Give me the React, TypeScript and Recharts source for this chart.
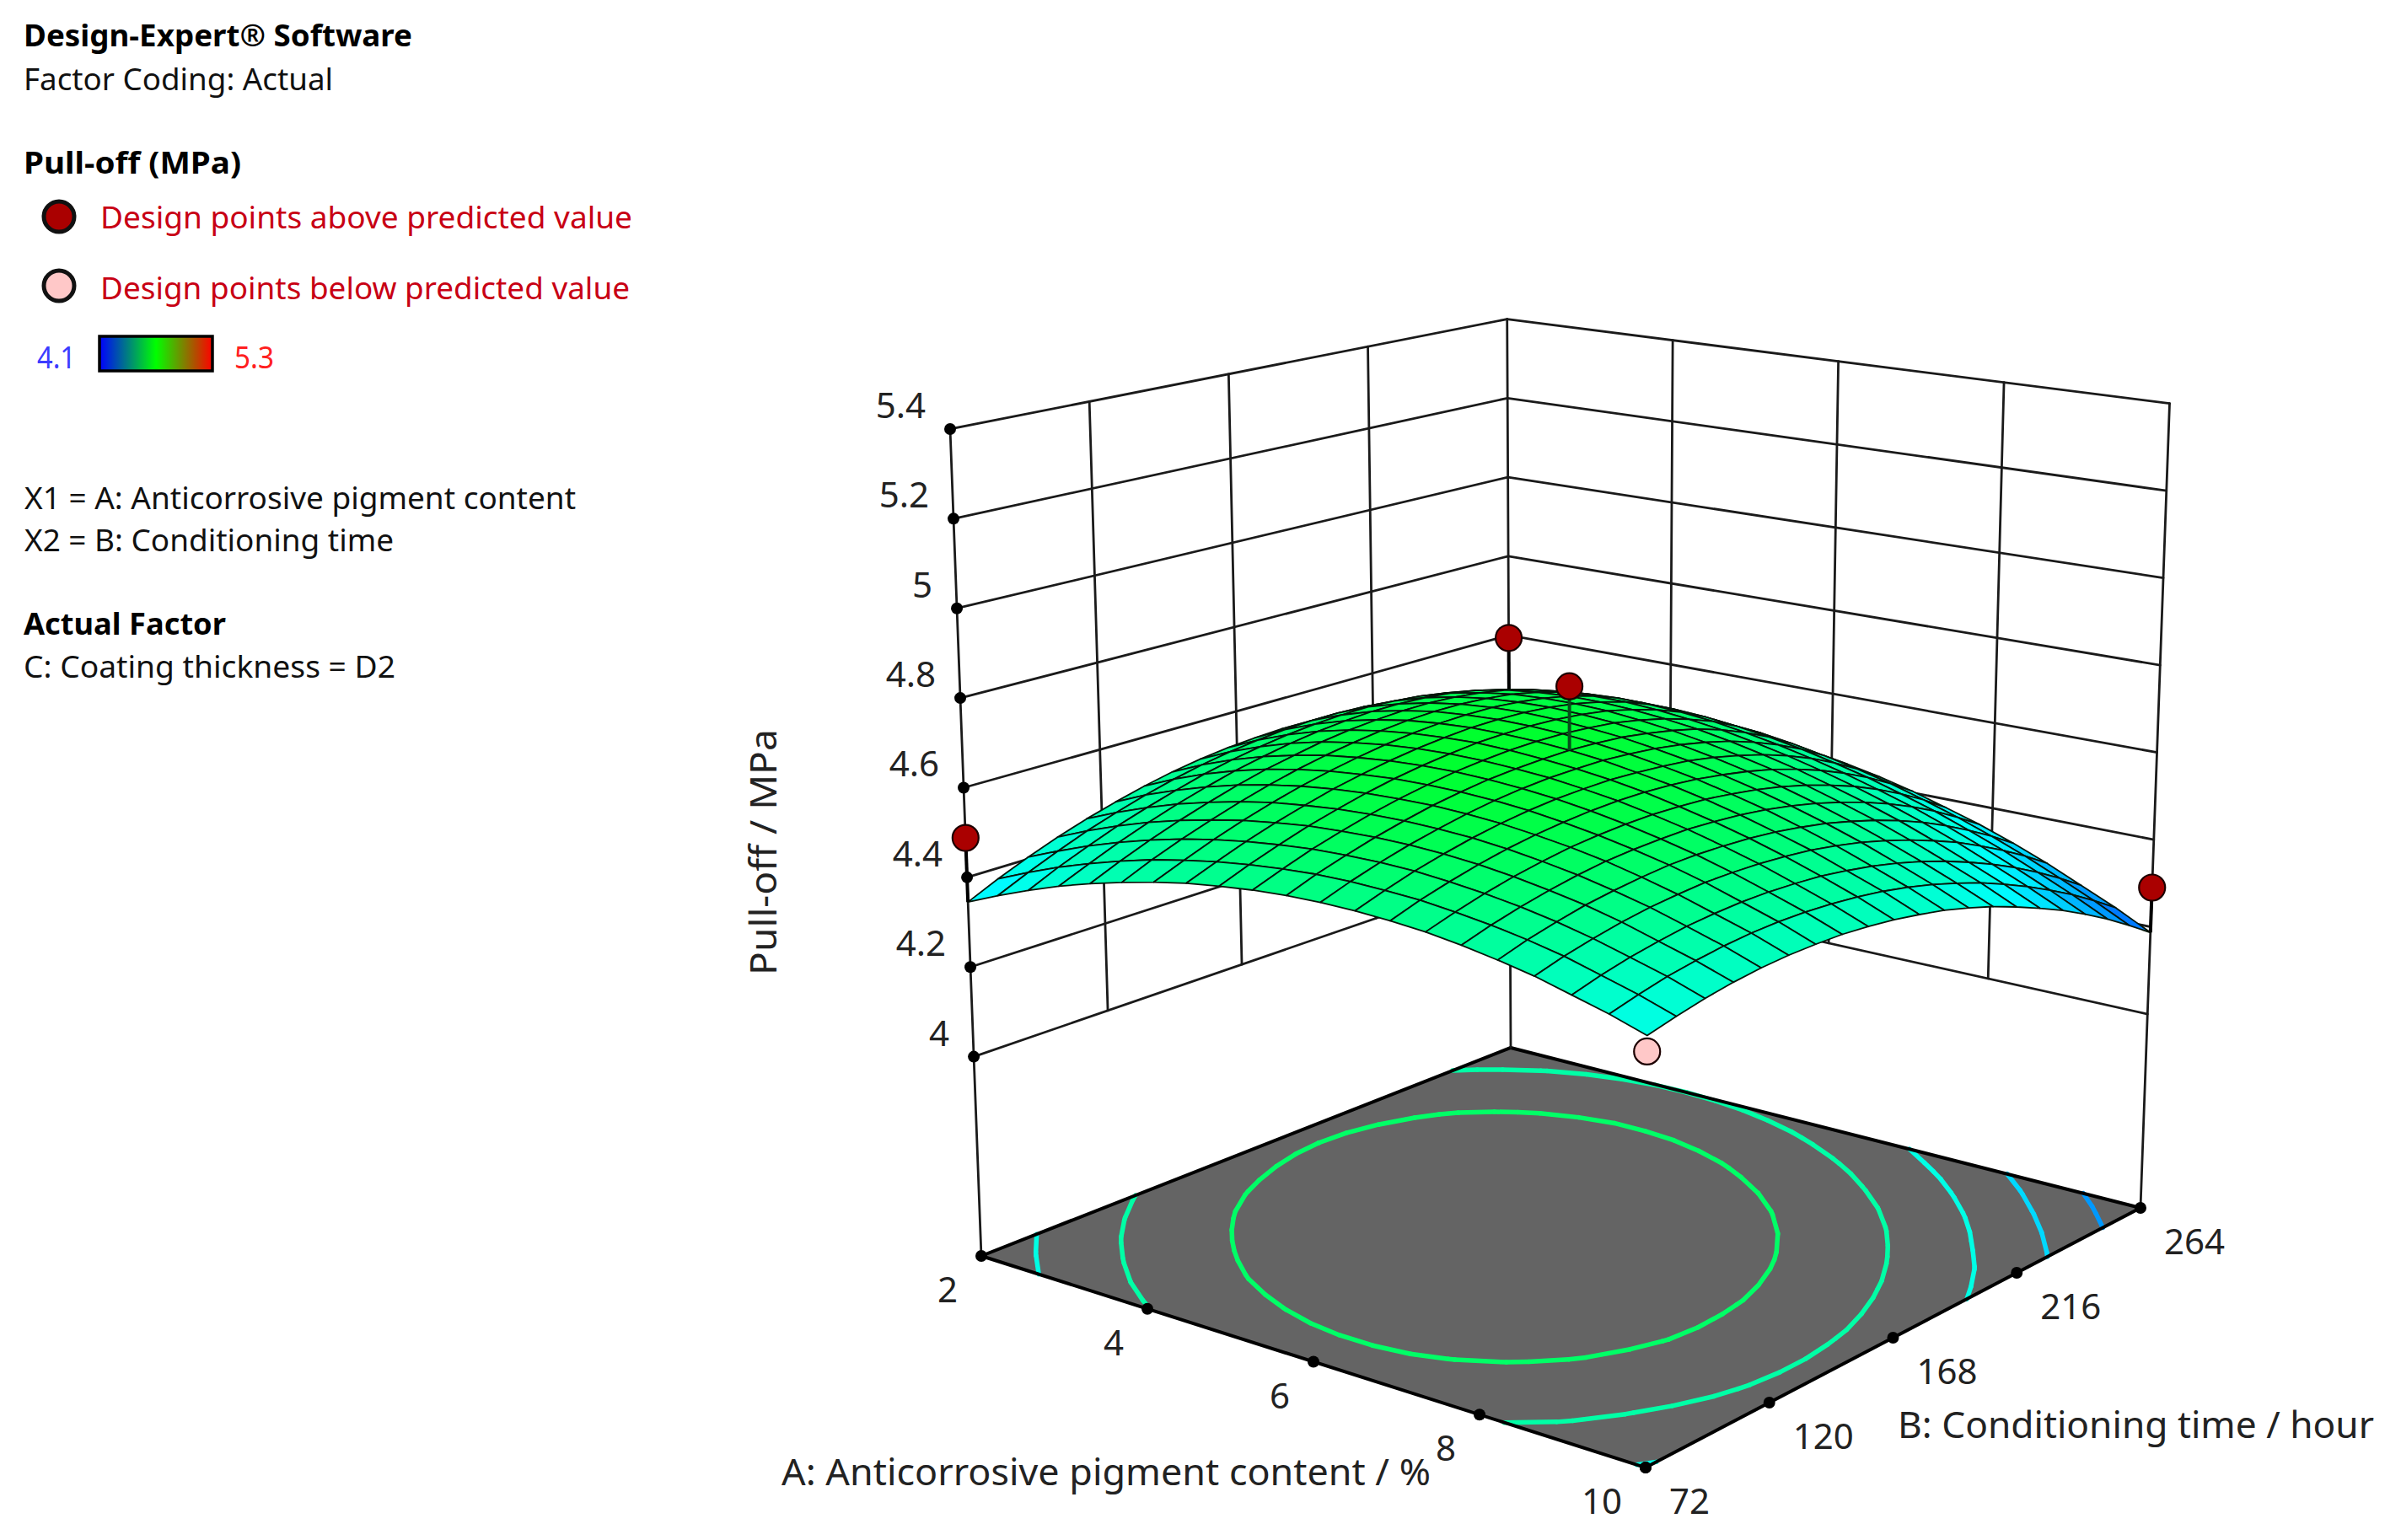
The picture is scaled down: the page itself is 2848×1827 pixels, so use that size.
import { ScatterChart, Scatter, XAxis, YAxis } from 'recharts'

const WIDTH = 2848
const HEIGHT = 1827

const A_GRID = [2, 2.4, 2.8, 3.2, 3.6, 4, 4.4, 4.8, 5.2, 5.6, 6, 6.4, 6.8, 7.2, 7.6, 8, 8.4, 8.8, 9.2, 9.6, 10]
const B_GRID = [72, 81.6, 91.2, 100.8, 110.4, 120, 129.6, 139.2, 148.8, 158.4, 168, 177.6, 187.2, 196.8, 206.4, 216, 225.6, 235.2, 244.8, 254.4, 264]

// one row per A value, one column per B value (MPa)
const PULL_OFF = [
  [4.345, 4.376, 4.404, 4.429, 4.451, 4.470, 4.487, 4.501, 4.512, 4.520, 4.525, 4.528, 4.527, 4.524, 4.518, 4.510, 4.498, 4.484, 4.467, 4.447, 4.424],
  [4.375, 4.405, 4.432, 4.457, 4.478, 4.497, 4.513, 4.526, 4.536, 4.543, 4.548, 4.550, 4.549, 4.545, 4.538, 4.529, 4.517, 4.502, 4.484, 4.463, 4.440],
  [4.402, 4.432, 4.458, 4.482, 4.502, 4.520, 4.536, 4.548, 4.557, 4.564, 4.568, 4.569, 4.568, 4.563, 4.556, 4.546, 4.533, 4.517, 4.498, 4.477, 4.453],
  [4.427, 4.455, 4.481, 4.504, 4.524, 4.541, 4.556, 4.567, 4.576, 4.582, 4.585, 4.586, 4.583, 4.578, 4.570, 4.559, 4.545, 4.529, 4.510, 4.488, 4.463],
  [4.448, 4.476, 4.501, 4.523, 4.542, 4.559, 4.573, 4.583, 4.592, 4.597, 4.599, 4.599, 4.596, 4.590, 4.581, 4.570, 4.555, 4.538, 4.518, 4.495, 4.470],
  [4.466, 4.494, 4.518, 4.539, 4.558, 4.574, 4.587, 4.597, 4.604, 4.609, 4.611, 4.610, 4.606, 4.599, 4.590, 4.577, 4.562, 4.544, 4.524, 4.500, 4.474],
  [4.482, 4.508, 4.532, 4.553, 4.571, 4.586, 4.598, 4.607, 4.614, 4.618, 4.619, 4.617, 4.613, 4.605, 4.595, 4.582, 4.566, 4.548, 4.526, 4.502, 4.475],
  [4.495, 4.520, 4.543, 4.563, 4.580, 4.595, 4.606, 4.615, 4.621, 4.624, 4.625, 4.622, 4.617, 4.609, 4.598, 4.584, 4.568, 4.548, 4.526, 4.501, 4.473],
  [4.504, 4.529, 4.551, 4.571, 4.587, 4.601, 4.612, 4.620, 4.625, 4.628, 4.627, 4.624, 4.618, 4.609, 4.598, 4.583, 4.566, 4.546, 4.523, 4.497, 4.469],
  [4.511, 4.535, 4.557, 4.575, 4.591, 4.604, 4.614, 4.622, 4.626, 4.628, 4.627, 4.623, 4.616, 4.607, 4.594, 4.579, 4.561, 4.541, 4.517, 4.491, 4.461],
  [4.515, 4.539, 4.559, 4.577, 4.592, 4.605, 4.614, 4.621, 4.624, 4.625, 4.624, 4.619, 4.612, 4.601, 4.588, 4.573, 4.554, 4.532, 4.508, 4.481, 4.451],
  [4.516, 4.539, 4.559, 4.576, 4.590, 4.602, 4.611, 4.617, 4.620, 4.620, 4.618, 4.612, 4.604, 4.593, 4.579, 4.563, 4.543, 4.521, 4.496, 4.468, 4.438],
  [4.514, 4.536, 4.556, 4.572, 4.586, 4.597, 4.605, 4.610, 4.612, 4.612, 4.608, 4.602, 4.594, 4.582, 4.567, 4.550, 4.530, 4.507, 4.481, 4.453, 4.422],
  [4.509, 4.531, 4.549, 4.565, 4.578, 4.588, 4.595, 4.600, 4.602, 4.601, 4.597, 4.590, 4.580, 4.568, 4.553, 4.535, 4.514, 4.490, 4.464, 4.435, 4.403],
  [4.502, 4.522, 4.540, 4.555, 4.567, 4.577, 4.583, 4.587, 4.588, 4.586, 4.582, 4.574, 4.564, 4.551, 4.535, 4.516, 4.495, 4.470, 4.443, 4.413, 4.380],
  [4.491, 4.511, 4.528, 4.542, 4.554, 4.563, 4.568, 4.571, 4.572, 4.569, 4.564, 4.556, 4.545, 4.531, 4.514, 4.495, 4.473, 4.448, 4.420, 4.389, 4.356],
  [4.477, 4.497, 4.513, 4.527, 4.537, 4.545, 4.551, 4.553, 4.552, 4.549, 4.543, 4.534, 4.523, 4.508, 4.491, 4.471, 4.448, 4.422, 4.393, 4.362, 4.328],
  [4.461, 4.480, 4.495, 4.508, 4.518, 4.525, 4.530, 4.531, 4.530, 4.526, 4.520, 4.510, 4.498, 4.482, 4.464, 4.443, 4.420, 4.393, 4.364, 4.332, 4.297],
  [4.440, 4.458, 4.473, 4.485, 4.495, 4.501, 4.505, 4.506, 4.504, 4.500, 4.492, 4.482, 4.469, 4.453, 4.434, 4.412, 4.388, 4.361, 4.331, 4.298, 4.262],
  [4.419, 4.436, 4.451, 4.462, 4.471, 4.477, 4.480, 4.480, 4.477, 4.472, 4.464, 4.453, 4.439, 4.422, 4.403, 4.380, 4.355, 4.327, 4.297, 4.263, 4.227],
  [4.394, 4.410, 4.424, 4.435, 4.443, 4.448, 4.450, 4.450, 4.446, 4.440, 4.431, 4.420, 4.405, 4.388, 4.367, 4.344, 4.319, 4.290, 4.259, 4.224, 4.187],
]

const A_TICKS = [2, 4, 6, 8, 10]
const B_TICKS = [72, 120, 168, 216, 264]
const Z_TICKS = [4, 4.2, 4.4, 4.6, 4.8, 5, 5.2, 5.4]
const CONTOUR_LEVELS = [4.55, 4.475, 4.4, 4.325, 4.25]

const DESIGN_A = [2, 2, 6, 10, 10]
const DESIGN_B = [264, 72, 168, 264, 72]
const DESIGN_Z = [4.593, 4.488, 4.766, 4.29, 4.363]
const DESIGN_SURFACE = [4.424, 4.345, 4.624, 4.187, 4.394]

// camera: floor corners in page pixels, then how fast height widens and climbs
const FLOOR_Z = 3.5556
const VANISH_X = 1875
const WIDEN = 0.0282
const CLIMB = 531.9
const H = { a: 572.1, b: 882.1, c: 1164, d: 58.5, e: -70.8, f: 1490, g: -0.11059, h: 0.14179 }

function project(a: number, b: number, z: number) {
  const u = (a - 2) / 8
  const v = (b - 72) / 192
  const w = H.g * u + H.h * v + 1
  const fx = (H.a * u + H.b * v + H.c) / w
  const fy = (H.d * u + H.e * v + H.f) / w
  const t = z - FLOOR_Z
  const hump = 16 * u * (1 - u) * v * (1 - v) * Math.pow(v + 1 - u, 4)
  const hw = 1 - 0.13 * u + 0.135 * v + 0.023 * u * v - 0.013 * hump
  return { x: fx + (fx - VANISH_X) * WIDEN * t, y: fy - (CLIMB * t) / hw }
}

function seg(a1: number, b1: number, z1: number, a2: number, b2: number, z2: number) {
  const p = project(a1, b1, z1)
  const q = project(a2, b2, z2)
  return { x: p.x, y: p.y, x2: q.x, y2: q.y }
}

// the software spaces its ticks evenly on the page, not in perspective
function along(p: { x: number; y: number }, q: { x: number; y: number }, t: number) {
  return { x: p.x + (q.x - p.x) * t, y: p.y + (q.y - p.y) * t }
}
const aTickAt = (a: number, z: number) => along(project(2, 72, z), project(10, 72, z), (a - 2) / 8)
const bTickAt = (b: number, z: number) => along(project(10, 72, z), project(10, 264, z), (b - 72) / 192)

const mix = (p: number[], q: number[], t: number) => p.map((c, i) => Math.round(c + (q[i] - c) * t))

function colorFor(z: number) {
  const stops = [[0, 0, 255], [0, 255, 255], [0, 255, 0], [255, 255, 0], [255, 0, 0]]
  const s = Math.max(0, Math.min(3.999, (z - 4.1) / 0.3))
  const i = Math.floor(s)
  const c = mix(stops[i], stops[i + 1], s - i)
  return `rgb(${c[0]},${c[1]},${c[2]})`
}

function quad(a1: number, b1: number, z1: number, a2: number, b2: number, z2: number, a3: number, b3: number, z3: number, a4: number, b4: number, z4: number, fill: string) {
  const corners = [project(a1, b1, z1), project(a2, b2, z2), project(a3, b3, z3), project(a4, b4, z4)]
  return { x: corners[0].x, y: corners[0].y, corners, fill }
}

// back corner first so the front cells paint over it
const surfaceCells: any[] = []
for (let i = 0; i < A_GRID.length - 1; i++) {
  for (let j = B_GRID.length - 2; j >= 0; j--) {
    const z00 = PULL_OFF[i][j]
    const z10 = PULL_OFF[i + 1][j]
    const z11 = PULL_OFF[i + 1][j + 1]
    const z01 = PULL_OFF[i][j + 1]
    surfaceCells.push(
      quad(A_GRID[i], B_GRID[j], z00, A_GRID[i + 1], B_GRID[j], z10, A_GRID[i + 1], B_GRID[j + 1], z11, A_GRID[i], B_GRID[j + 1], z01, colorFor((z00 + z10 + z11 + z01) / 4 + 0.02))
    )
  }
}

const floorCell = [quad(2, 72, FLOOR_Z, 10, 72, FLOOR_Z, 10, 264, FLOOR_Z, 2, 264, FLOOR_Z, '#646464')]

const contourSegments: any[] = []
CONTOUR_LEVELS.forEach((level) => {
  for (let i = 0; i < A_GRID.length - 1; i++) {
    for (let j = 0; j < B_GRID.length - 1; j++) {
      const c = [
        [A_GRID[i], B_GRID[j], PULL_OFF[i][j]],
        [A_GRID[i + 1], B_GRID[j], PULL_OFF[i + 1][j]],
        [A_GRID[i + 1], B_GRID[j + 1], PULL_OFF[i + 1][j + 1]],
        [A_GRID[i], B_GRID[j + 1], PULL_OFF[i][j + 1]],
      ]
      const hits: { x: number; y: number }[] = []
      for (let k = 0; k < 4; k++) {
        const p = c[k]
        const q = c[(k + 1) % 4]
        if (p[2] >= level !== q[2] >= level) {
          const t = (level - p[2]) / (q[2] - p[2])
          hits.push(project(p[0] + (q[0] - p[0]) * t, p[1] + (q[1] - p[1]) * t, FLOOR_Z))
        }
      }
      for (let k = 0; k + 1 < hits.length; k += 2) {
        contourSegments.push({ x: hits[k].x, y: hits[k].y, x2: hits[k + 1].x, y2: hits[k + 1].y, stroke: colorFor(level + 0.03) })
      }
    }
  }
})

const floorEdges = [
  seg(2, 72, FLOOR_Z, 10, 72, FLOOR_Z),
  seg(10, 72, FLOOR_Z, 10, 264, FLOOR_Z),
  seg(10, 264, FLOOR_Z, 2, 264, FLOOR_Z),
  seg(2, 264, FLOOR_Z, 2, 72, FLOOR_Z),
]

function evenWallLine(first: number[], last: number[], t: number) {
  const p = along(project(first[0], first[1], 4), project(last[0], last[1], 4), t)
  const q = along(project(first[0], first[1], 5.4), project(last[0], last[1], 5.4), t)
  return { x: p.x, y: p.y, x2: q.x, y2: q.y }
}

const wallLines = [
  ...Z_TICKS.flatMap((z) => [seg(2, 72, z, 2, 264, z), seg(2, 264, z, 10, 264, z)]),
  ...B_TICKS.slice(1, 4).map((b) => evenWallLine([2, 72], [2, 264], (b - 72) / 192)),
  ...A_TICKS.slice(1, 4).map((a) => evenWallLine([2, 264], [10, 264], (a - 2) / 8)),
  seg(2, 72, FLOOR_Z, 2, 72, 5.4),
  seg(2, 264, FLOOR_Z, 2, 264, 5.4),
  seg(10, 264, FLOOR_Z, 10, 264, 5.4),
]

const tickDots = [
  ...Z_TICKS.map((z) => project(2, 72, z)),
  ...A_TICKS.map((a) => aTickAt(a, FLOOR_Z)),
  ...B_TICKS.map((b) => bTickAt(b, FLOOR_Z)),
]

const designPoints = DESIGN_Z.map((z, i) => {
  const p = project(DESIGN_A[i], DESIGN_B[i], z)
  const q = project(DESIGN_A[i], DESIGN_B[i], DESIGN_SURFACE[i])
  const above = z >= DESIGN_SURFACE[i]
  return {
    x: p.x,
    y: p.y,
    x2: above ? q.x : p.x,
    y2: above ? q.y : p.y,
    fill: above ? '#aa0000' : '#ffc8c8',
    tail: DESIGN_A[i] === 6 ? '#06501a' : '#000',
  }
})
const backPoints = designPoints.slice(0, 1)
const frontPoints = designPoints.slice(1)

const tickLabels = [
  ...Z_TICKS.map((z) => {
    const p = project(2, 72, z)
    return { x: p.x - 29, y: p.y - 13, text: String(z), anchor: 'end', size: 42, fill: '#222' }
  }),
  ...A_TICKS.map((a) => {
    const p = aTickAt(a, FLOOR_Z)
    return { x: p.x - 28, y: p.y + 55, text: String(a), anchor: 'end', size: 42, fill: '#222' }
  }),
  ...B_TICKS.map((b) => {
    const p = bTickAt(b, FLOOR_Z)
    return { x: p.x + 28, y: p.y + 55, text: String(b), anchor: 'start', size: 42, fill: '#222' }
  }),
]

const RED_TEXT = '#c80014'
const panelText = [
  { text: 'Design-Expert® Software', x: 28, y: 55, len: 461, size: 36, weight: 700, fill: '#000' },
  { text: 'Factor Coding: Actual', x: 28, y: 107, len: 367, size: 36, weight: 400, fill: '#111' },
  { text: 'Pull-off (MPa)', x: 28, y: 206, len: 258, size: 36, weight: 700, fill: '#000' },
  { text: 'Design points above predicted value', x: 119, y: 271, len: 631, size: 36, weight: 400, fill: RED_TEXT },
  { text: 'Design points below predicted value', x: 119, y: 355, len: 628, size: 36, weight: 400, fill: RED_TEXT },
  { text: '4.1', x: 44, y: 437, len: 46, size: 36, weight: 400, fill: '#3c3cff' },
  { text: '5.3', x: 278, y: 437, len: 47, size: 36, weight: 400, fill: '#ff2020' },
  { text: 'X1 = A: Anticorrosive pigment content', x: 29, y: 604, len: 654, size: 36, weight: 400, fill: '#111' },
  { text: 'X2 = B: Conditioning time', x: 29, y: 654, len: 438, size: 36, weight: 400, fill: '#111' },
  { text: 'Actual Factor', x: 28, y: 753, len: 240, size: 36, weight: 700, fill: '#000' },
  { text: 'C: Coating thickness = D2', x: 28, y: 804, len: 441, size: 36, weight: 400, fill: '#111' },
  { text: 'A: Anticorrosive pigment content / %', x: 927, y: 1762, len: 770, size: 43, weight: 400, fill: '#222' },
  { text: 'B: Conditioning time / hour', x: 2251, y: 1706, len: 565, size: 43, weight: 400, fill: '#222' },
  { text: 'Pull-off / MPa', x: 921, y: 1157, len: 292, size: 43, weight: 400, fill: '#222', rotate: -90 },
]

const legendMarks = [
  { x: 70, y: 257, fill: '#aa0000' },
  { x: 70, y: 339, fill: '#ffc8c8' },
]
const colorBar = [{ x: 118, y: 399, w: 134, h: 41 }]

function PolyShape({ cx, cy, payload }: any) {
  const pts = payload.corners.map((c: any) => `${cx + c.x - payload.x},${cy + c.y - payload.y}`).join(' ')
  return <polygon points={pts} fill={payload.fill} stroke="#05160a" strokeWidth={1.8} strokeLinejoin="round" />
}

function FloorShape({ cx, cy, payload }: any) {
  const pts = payload.corners.map((c: any) => `${cx + c.x - payload.x},${cy + c.y - payload.y}`).join(' ')
  return <polygon points={pts} fill={payload.fill} />
}

const lineShape = (stroke: string, width: number) => ({ cx, cy, payload }: any) => (
  <line x1={cx} y1={cy} x2={cx + payload.x2 - payload.x} y2={cy + payload.y2 - payload.y} stroke={payload.stroke || stroke} strokeWidth={width} strokeLinecap="round" />
)

function DotShape({ cx, cy }: any) {
  return <circle cx={cx} cy={cy} r={7} fill="#000" />
}

function DesignShape({ cx, cy, payload }: any) {
  return (
    <g>
      <line x1={cx} y1={cy} x2={cx + payload.x2 - payload.x} y2={cy + payload.y2 - payload.y} stroke={payload.tail} strokeWidth={4} />
      <circle cx={cx} cy={cy} r={15.5} fill={payload.fill} stroke="#1c0000" strokeWidth={2.2} />
    </g>
  )
}

function LegendMark({ cx, cy, payload }: any) {
  return <circle cx={cx} cy={cy} r={18} fill={payload.fill} stroke="#111" strokeWidth={5} />
}

function BarShape({ cx, cy, payload }: any) {
  return (
    <g>
      <defs>
        <linearGradient id="pulloff-bar" x1="0" y1="0" x2="1" y2="0">
          <stop offset="0%" stopColor="#0000ff" />
          <stop offset="50%" stopColor="#00ff00" />
          <stop offset="100%" stopColor="#ff0000" />
        </linearGradient>
      </defs>
      <rect x={cx} y={cy} width={payload.w} height={payload.h} fill="url(#pulloff-bar)" stroke="#000" strokeWidth={3.5} />
    </g>
  )
}

function TextShape({ cx, cy, payload }: any) {
  return (
    <text
      x={cx}
      y={cy}
      textAnchor={payload.anchor || 'start'}
      fontFamily="'Noto Sans', 'Open Sans', sans-serif"
      fontSize={payload.size}
      fontWeight={payload.weight || 400}
      fill={payload.fill}
      textLength={payload.len}
      lengthAdjust={payload.len ? 'spacingAndGlyphs' : undefined}
      transform={payload.rotate ? `rotate(${payload.rotate} ${cx} ${cy})` : undefined}
    >
      {payload.text}
    </text>
  )
}

export default function App() {
  return (
    <div style={{ position: 'absolute', left: 0, top: 0, width: WIDTH, height: HEIGHT, background: '#fff' }}>
      <ScatterChart width={WIDTH} height={HEIGHT} margin={{ top: 0, right: 0, bottom: 0, left: 0 }}>
        <XAxis type="number" dataKey="x" domain={[0, WIDTH]} hide />
        <YAxis type="number" dataKey="y" domain={[0, HEIGHT]} reversed hide />
        <Scatter data={floorCell} shape={FloorShape} isAnimationActive={false} />
        <Scatter data={contourSegments} shape={lineShape('#0f8', 5.5)} isAnimationActive={false} />
        <Scatter data={floorEdges} shape={lineShape('#000', 4)} isAnimationActive={false} />
        <Scatter data={wallLines} shape={lineShape('#1a1a1a', 2.8)} isAnimationActive={false} />
        <Scatter data={tickDots} shape={DotShape} isAnimationActive={false} />
        <Scatter data={backPoints} shape={DesignShape} isAnimationActive={false} />
        <Scatter data={surfaceCells} shape={PolyShape} isAnimationActive={false} />
        <Scatter data={frontPoints} shape={DesignShape} isAnimationActive={false} />
        <Scatter data={tickLabels} shape={TextShape} isAnimationActive={false} />
        <Scatter data={panelText} shape={TextShape} isAnimationActive={false} />
        <Scatter data={legendMarks} shape={LegendMark} isAnimationActive={false} />
        <Scatter data={colorBar} shape={BarShape} isAnimationActive={false} />
      </ScatterChart>
    </div>
  )
}
